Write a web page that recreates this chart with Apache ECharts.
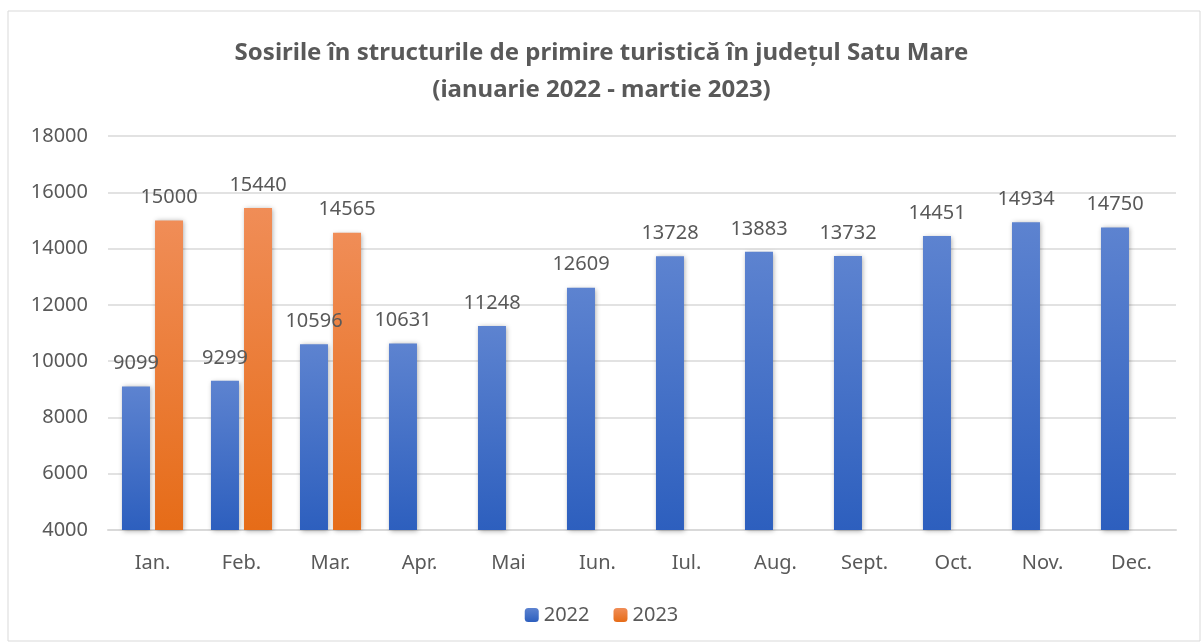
<!DOCTYPE html>
<html>
<head>
<meta charset="utf-8">
<script src="https://cdn.jsdelivr.net/npm/echarts@6/dist/echarts.min.js"></script>
<style>
  html, body { margin: 0; padding: 0; background: #fff; }
  #main { width: 1203px; height: 643px; }
</style>
</head>
<body>
<div id="main"></div>
<script>
// date
var luni = ['Ian.', 'Feb.', 'Mar.', 'Apr.', 'Mai', 'Iun.', 'Iul.', 'Aug.', 'Sept.', 'Oct.', 'Nov.', 'Dec.'];
var sosiri2022 = [9099, 9299, 10596, 10631, 11248, 12609, 13728, 13883, 13732, 14451, 14934, 14750];
var sosiri2023 = [15000, 15440, 14565, null, null, null, null, null, null, null, null, null];

var font = 'Noto Sans';
var gri = '#595959';

var myChart = echarts.init(document.getElementById('main'));

function gradient(top, bottom) {
    return new echarts.graphic.LinearGradient(0, 0, 0, 1, [
        { offset: 0, color: top },
        { offset: 1, color: bottom }
    ]);
}

myChart.setOption({
    animation: false,
    backgroundColor: '#fff',
    graphic: [{
        type: 'rect',
        shape: { x: 8, y: 11, width: 1192, height: 630 },
        style: { fill: 'none', stroke: '#d9d9d9', lineWidth: 1 },
        z: -1
    }],
    title: {
        text: 'Sosirile în structurile de primire turistică în județul Satu Mare\n(ianuarie 2022 - martie 2023)',
        left: 'center',
        top: 30,
        textStyle: {
            fontFamily: font,
            fontSize: 24,
            fontWeight: 'bold',
            color: gri,
            lineHeight: 37
        }
    },
    legend: {
        bottom: 13,
        left: 'center',
        itemWidth: 14,
        itemHeight: 14,
        itemGap: 24,
        textStyle: { fontFamily: font, fontSize: 20, color: gri },
        data: ['2022', '2023']
    },
    grid: {
        left: 108,
        right: 27,
        top: 136,
        bottom: 113
    },
    xAxis: {
        type: 'category',
        data: luni,
        axisLine: { lineStyle: { color: '#d9d9d9', width: 2 } },
        axisTick: { show: false },
        axisLabel: { fontFamily: font, fontSize: 20, color: gri, margin: 23 }
    },
    yAxis: {
        type: 'value',
        min: 4000,
        max: 18000,
        interval: 2000,
        axisLine: { show: false },
        axisTick: { show: false },
        splitLine: { lineStyle: { color: '#d9d9d9', width: 1.5 } },
        axisLabel: {
            fontFamily: font, fontSize: 20, color: gri, margin: 20,
            formatter: function (v) { return String(v); }
        }
    },
    series: [{
        name: '2022',
        type: 'bar',
        barWidth: 28,
        barGap: '18%',
        data: sosiri2022,
        itemStyle: {
            color: gradient('#5d83d0', '#2d5fbe'),
            shadowColor: 'rgba(0,0,0,0.35)',
            shadowBlur: 5,
            shadowOffsetX: 1,
            shadowOffsetY: 1
        },
        label: {
            show: true,
            position: 'top',
            distance: 13,
            fontFamily: font,
            fontSize: 20,
            color: gri
        }
    }, {
        name: '2023',
        type: 'bar',
        barWidth: 28,
        data: sosiri2023,
        itemStyle: {
            color: gradient('#f08d57', '#e66c18'),
            shadowColor: 'rgba(0,0,0,0.35)',
            shadowBlur: 5,
            shadowOffsetX: 1,
            shadowOffsetY: 1
        },
        label: {
            show: true,
            position: 'top',
            distance: 13,
            fontFamily: font,
            fontSize: 20,
            color: gri
        }
    }]
});
</script>
</body>
</html>
